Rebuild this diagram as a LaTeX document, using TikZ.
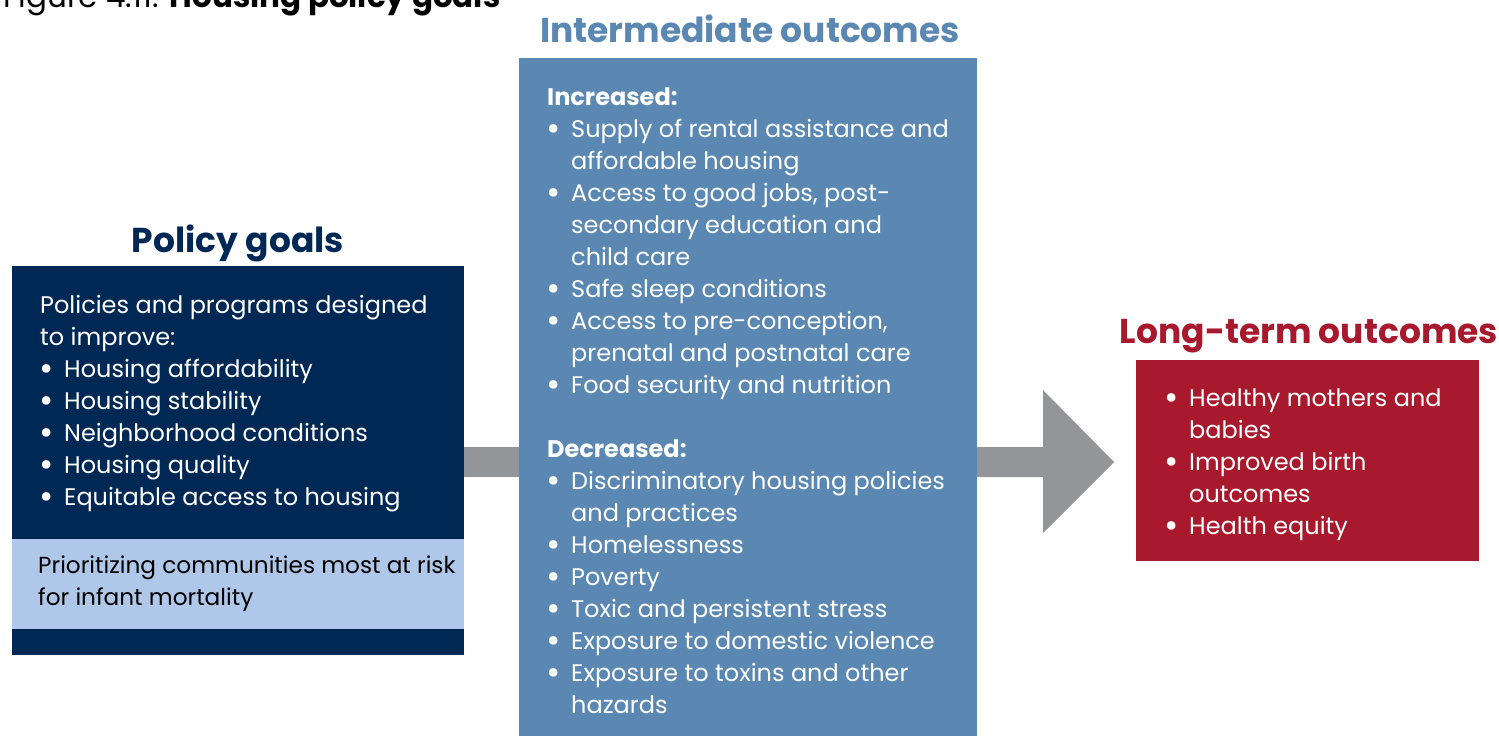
\documentclass[tikz,border=0pt]{standalone}
\usepackage{fontspec}
\setmainfont{Poppins}
\definecolor{navy}{HTML}{002855}
\definecolor{steel}{HTML}{5B88B2}
\definecolor{lightblue}{HTML}{AFC7E8}
\definecolor{crimson}{HTML}{A8192E}
\definecolor{arrowgray}{HTML}{939598}
\newcommand\bodyfont{\fontsize{24}{32}\selectfont}
\newcommand\titlefont{\fontsize{34.5}{40}\selectfont\bfseries}
\newcommand\bl{\makebox[24pt][l]{\hspace*{-1pt}\raisebox{-3pt}{\scalebox{1.45}{\textbullet}}}}
\newcommand\ind{\hspace*{24pt}}
\newenvironment{lines}{\begin{tabular}[t]{@{}l@{}}}{\end{tabular}}
\begin{document}
\begin{tikzpicture}[x=1pt,y=-1pt,
  box/.style={anchor=north west, inner sep=0pt, outer sep=0pt},
  txt/.style={anchor=base west, inner sep=0pt, font=\bodyfont},
  ttl/.style={anchor=base, inner sep=0pt, font=\titlefont}]
\useasboundingbox (0,0) rectangle (1499,736);
\begin{scope}
\clip (0,0) rectangle (1499,736);
\node[anchor=base west, inner sep=0pt, font=\fontsize{31}{32}\selectfont] (caption) at (3,7) {Figure 4.11: \textbf{Housing policy goals}};
\end{scope}
% boxes
\node[box, fill=navy, minimum width=452pt, minimum height=389pt] (pgbox) at (12,266) {};
\node[box, fill=lightblue, minimum width=452pt, minimum height=90pt] (pgband) at (12,539) {};
\node[box, fill=steel, minimum width=458pt, minimum height=678pt] (iobox) at (519,58) {};
\node[box, fill=crimson, minimum width=343pt, minimum height=201pt] (ltbox) at (1136,360) {};
% arrow
\coordinate (tip) at (1114,462);
\fill[arrowgray] (pgbox.east |- 0,447) -- (iobox.west |- 0,447) -- (iobox.west |- 0,477) -- (pgbox.east |- 0,477) -- cycle;
\fill[arrowgray] (iobox.east |- 0,447) -- (1043,447) -- (1043,390) -- (tip) -- (1043,533) -- (1043,477) -- (iobox.east |- 0,477) -- cycle;
% titles
\node[ttl, text=navy] (pgtitle) at (238,252) {Policy goals};
\node[ttl, text=steel] (iotitle) at (750,42) {Intermediate outcomes};
\node[ttl, text=crimson] (lttitle) at (1309,343) {Long-term outcomes};
% texts
\node[txt, text=white] (pgtext) at (40,313) {\begin{lines}Policies and programs designed\\to improve:\\
\bl Housing affordability\\\bl Housing stability\\\bl Neighborhood conditions\\\bl Housing quality\\\bl Equitable access to housing\end{lines}};
\node[txt, text=black, font=\fontsize{23.2}{32}\selectfont] (bandtext) at (38,573) {\begin{lines}Prioritizing communities most at risk\\for infant mortality\end{lines}};
\node[txt, text=white] (iotext) at (547,105) {\begin{lines}\textbf{Increased:}\\
\bl Supply of rental assistance and\\\ind affordable housing\\
\bl Access to good jobs, post-\\\ind secondary education and\\\ind child care\\
\bl Safe sleep conditions\\
\bl Access to pre-conception,\\\ind prenatal and postnatal care\\
\bl Food security and nutrition\\[32pt]
\textbf{Decreased:}\\
\bl Discriminatory housing policies\\\ind and practices\\
\bl Homelessness\\
\bl Poverty\\
\bl Toxic and persistent stress\\
\bl Exposure to domestic violence\\
\bl Exposure to toxins and other\\\ind hazards\end{lines}};
\node[txt, text=white] (lttext) at (1165,406) {\begin{lines}\bl Healthy mothers and\\\ind babies\\\bl Improved birth\\\ind outcomes\\\bl Health equity\end{lines}};
\end{tikzpicture}
\end{document}
